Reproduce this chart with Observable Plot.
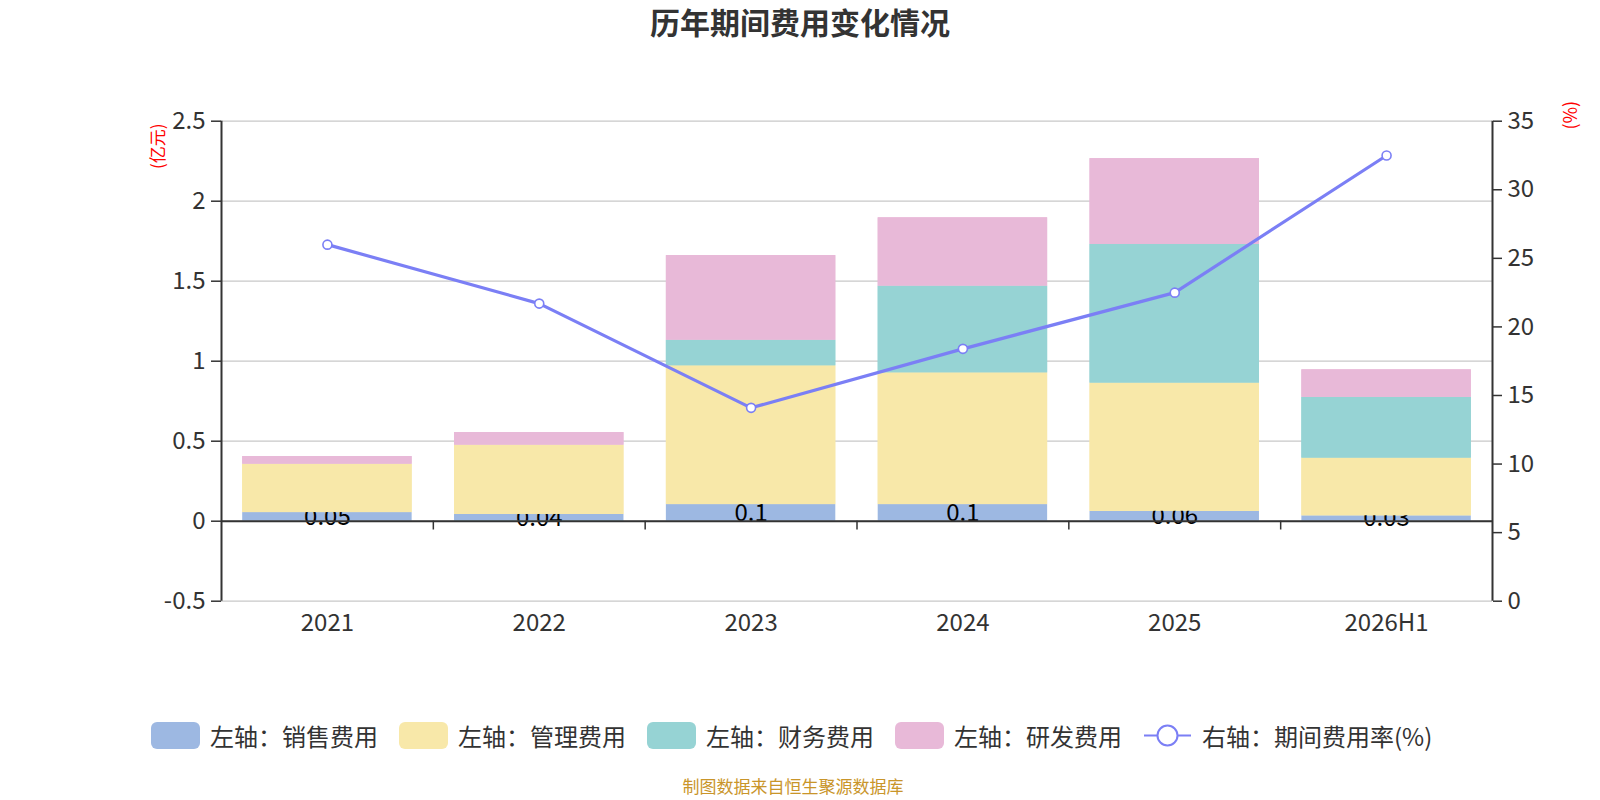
<!DOCTYPE html>
<html><head><meta charset="utf-8">
<script src="https://cdn.jsdelivr.net/npm/d3@7"></script>
<script src="https://cdn.jsdelivr.net/npm/@observablehq/plot@0.6"></script>
<style>
body{margin:0;background:#fff;font-family:"Noto Sans CJK SC","Noto Sans",sans-serif;}
#wrap{position:relative;width:1600px;height:800px;overflow:hidden;background:#fff;}
#chart{position:absolute;left:0;top:0;}
#title{position:absolute;left:0;width:1600px;top:6px;text-align:center;font-size:30px;line-height:1;font-weight:bold;color:#333;}
#legend{position:absolute;left:151px;top:722px;display:flex;align-items:center;font-size:24px;line-height:1;color:#333;}
.item{display:flex;align-items:center;margin-right:21px;}
.sw{width:49px;height:27px;border-radius:6px;margin-right:10px;}
.lsw{width:49px;height:27px;margin-right:10px;}
#footer{position:absolute;left:0;width:1586px;top:777px;text-align:center;font-size:17px;line-height:1.1;color:#c9952a;}
</style></head>
<body><div id="wrap"><div id="chart"></div><div id="title">历年期间费用变化情况</div><div id="legend"></div><div id="footer">制图数据来自恒生聚源数据库</div></div>
<script>
const categories = ["2021","2022","2023","2024","2025","2026H1"];
const salesExp = [0.054,0.042,0.104,0.104,0.062,0.034];
const adminExp = [0.302,0.433,0.867,0.823,0.801,0.360];
const finExp   = [0,-0.005,0.160,0.542,0.867,0.380];
const rdExp    = [0.048,0.079,0.529,0.427,0.536,0.172];
const expenseRate = [26.0,21.7,14.1,18.4,22.5,32.5];
const leftTicks = [-0.5,0,0.5,1,1.5,2,2.5];
const rightTicks = [0,5,10,15,20,25,30,35];
const seriesNames = ["左轴：销售费用","左轴：管理费用","左轴：财务费用","左轴：研发费用"];
const lineName = "右轴：期间费用率(%)";
const colors = ["#9db8e2","#f8e8a9","#96d3d4","#e8b9d8"];
const lineColor = "#7b7ff5";

const leftMin = leftTicks[0], leftMax = leftTicks[leftTicks.length-1];
const rightMax = rightTicks[rightTicks.length-1];
const toLeft = p => leftMin + p*(leftMax-leftMin)/rightMax;
const fromLeft = v => (v-leftMin)*rightMax/(leftMax-leftMin);

const seriesVals = [salesExp, adminExp, finExp, rdExp];
const bars = [];
categories.forEach((c,i)=>seriesVals.forEach((arr,s)=>bars.push({i, c, s, v: arr[i]})));
const sales = categories.map((c,i)=>({i, c, v: salesExp[i]}));
const rate = categories.map((c,i)=>({i, c, p: expenseRate[i]}));
const n = categories.length;
const inset = 21.2;
const font = '"Noto Sans CJK SC","Noto Sans",sans-serif';

const plot = Plot.plot({
  width:1600, height:800,
  marginLeft:221, marginRight:108, marginTop:120.7, marginBottom:199.3,
  x:{type:"linear", domain:[0,n], axis:null},
  y:{domain:[leftMin,leftMax], axis:null},
  style:{fontFamily:font, background:"transparent", color:"#333"},
  marks:[
    Plot.gridY(leftTicks, {stroke:"#c8c8c8", strokeOpacity:1, strokeWidth:1.3}),
    Plot.rectY(bars, {x:d=>d.i, interval:1, y:"v", fill:d=>colors[d.s], insetLeft:inset, insetRight:inset}),
    Plot.text(sales, {x:d=>d.i+0.5, y:d=>d.v/2, text:d=>String(+d.v.toFixed(2)), fontSize:24, fill:"#000", textAnchor:"middle", lineAnchor:"middle"}),
    Plot.rectY(bars, {x:d=>d.i, interval:1, y:"v", fill:d=>colors[d.s], fillOpacity:d=>d.s===0?0:1, insetLeft:inset, insetRight:inset}),
    Plot.ruleX([0,n], {y1:leftMin, y2:leftMax, stroke:"#333", strokeWidth:2}),
    Plot.ruleY([0], {x1:0, x2:n, stroke:"#333", strokeWidth:2}),
    Plot.ruleX(d3.range(1,n), {y1:0, y2:-0.055, stroke:"#333", strokeWidth:1.5}),
    Plot.axisY(leftTicks, {anchor:"left", tickSize:10, tickPadding:6, fontSize:24, strokeWidth:1.5, tickFormat:d=>String(d), color:"#333", label:null}),
    Plot.axisY(rightTicks.map(toLeft), {anchor:"right", tickSize:9, tickPadding:6, fontSize:24, strokeWidth:1.5, tickFormat:v=>String(Math.round(fromLeft(v))), color:"#333", label:null}),
    Plot.axisX(categories.map((c,i)=>i+0.5), {anchor:"bottom", tickSize:0, tickPadding:13, fontSize:24, tickFormat:v=>categories[Math.floor(v)], color:"#333", label:null}),
    Plot.line(rate, {x:d=>d.i+0.5, y:d=>toLeft(d.p), stroke:lineColor, strokeWidth:3.2}),
    Plot.dot(rate, {x:d=>d.i+0.5, y:d=>toLeft(d.p), r:4.5, fill:"white", stroke:lineColor, strokeWidth:1.6}),
    Plot.text(["(亿元)"], {frameAnchor:"top-left", dx:-63, dy:25, rotate:-90, fill:"red", fontSize:17, textAnchor:"middle", lineAnchor:"middle"}),
    Plot.text(["(%)"], {frameAnchor:"top-right", dx:79, dy:-6, rotate:-90, fill:"red", fontSize:18, textAnchor:"middle", lineAnchor:"middle"})
  ]
});
document.getElementById("chart").appendChild(plot);

const legend = document.getElementById("legend");
seriesNames.forEach((name,s)=>{
  const it = document.createElement("div"); it.className="item";
  const sw = document.createElement("div"); sw.className="sw"; sw.style.background=colors[s];
  const tx = document.createElement("span"); tx.textContent=name;
  it.appendChild(sw); it.appendChild(tx); legend.appendChild(it);
});
{
  const it = document.createElement("div"); it.className="item";
  it.innerHTML = `<svg class="lsw" width="49" height="27"><line x1="1" y1="13.5" x2="48" y2="13.5" stroke="${lineColor}" stroke-width="2"/><circle cx="24.5" cy="13.5" r="10" fill="white" stroke="${lineColor}" stroke-width="2"/></svg>`;
  const tx = document.createElement("span"); tx.textContent=lineName;
  it.appendChild(tx); legend.appendChild(it);
}
</script>
</body></html>
